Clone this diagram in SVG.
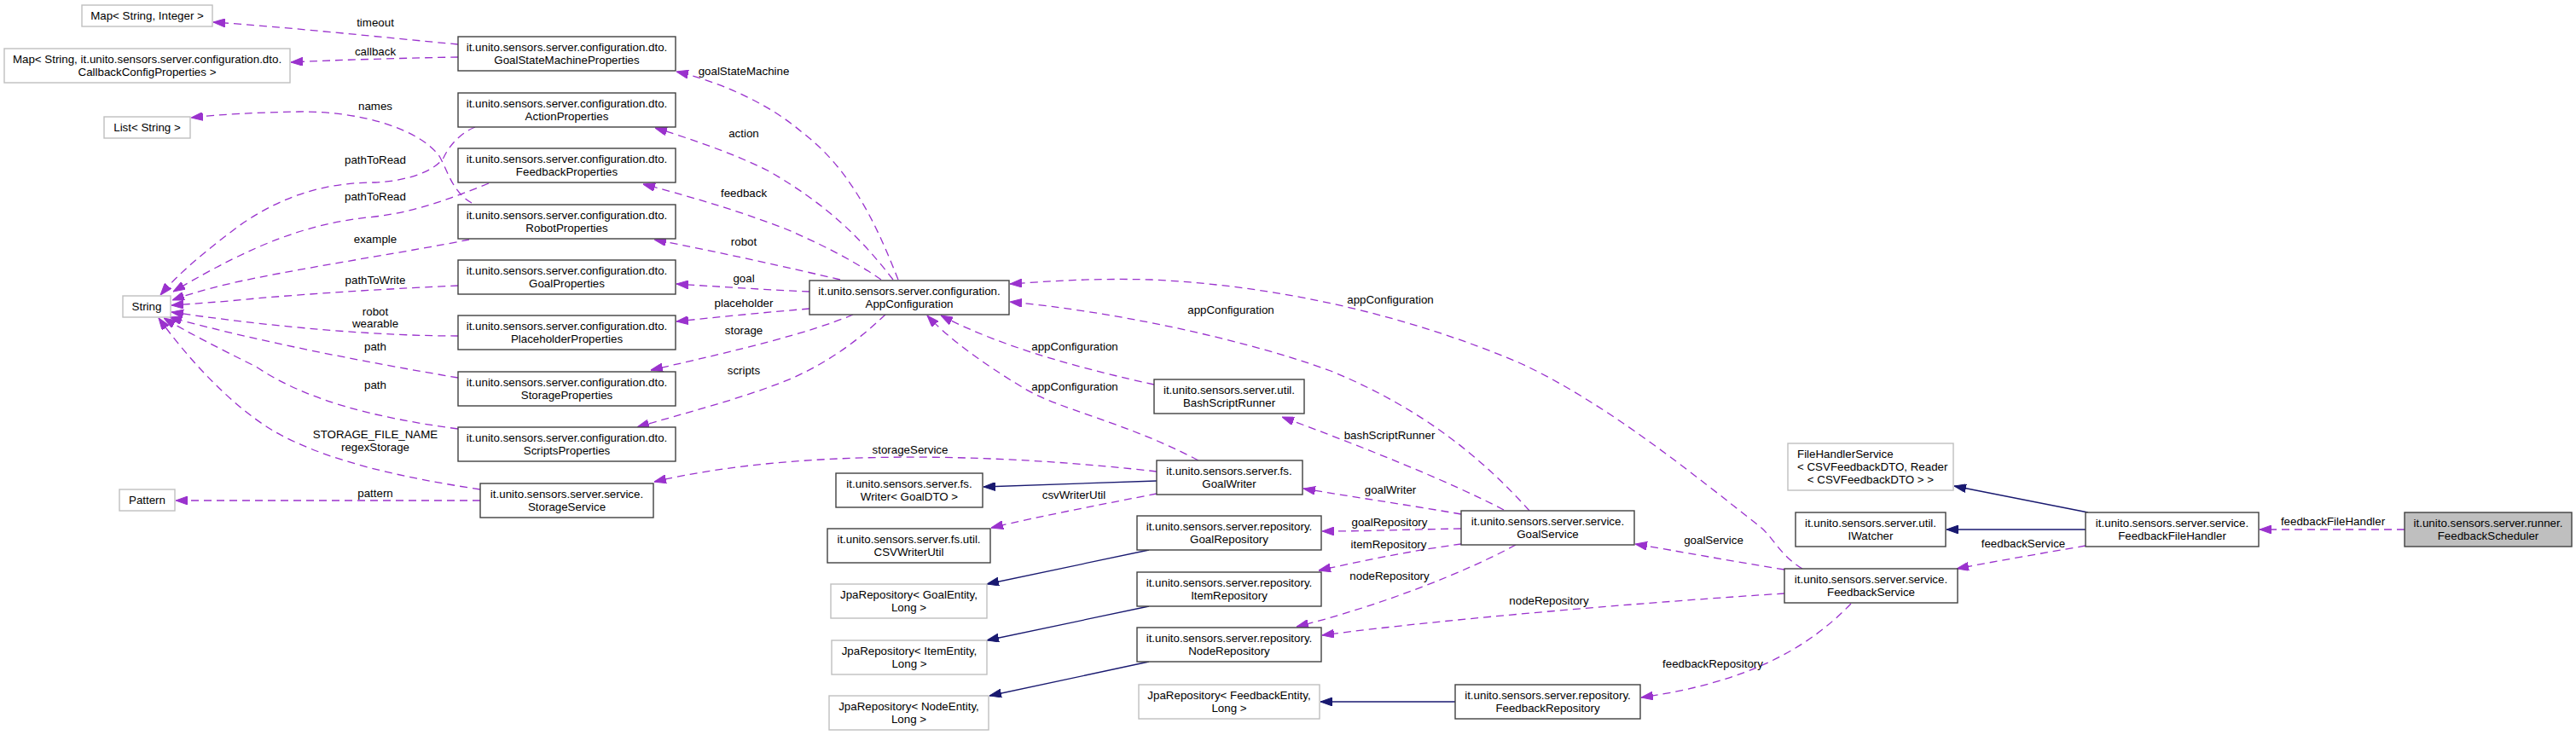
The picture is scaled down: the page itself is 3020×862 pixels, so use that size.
<svg xmlns="http://www.w3.org/2000/svg" width="3020" height="862" viewBox="0 0 3020 862">
<style>
text{font-family:"Liberation Sans",Arial,Helvetica,sans-serif;font-size:13.33px;fill:#000;text-anchor:middle}
.n rect{fill:#fff;stroke:#404040;stroke-width:1.4}
.u rect{fill:#fff;stroke:#bfbfbf;stroke-width:1.4}
.r rect{fill:#bfbfbf;stroke:#404040;stroke-width:1.4}
.d{fill:none;stroke:#9a32cd;stroke-width:1.3;stroke-dasharray:9,6;marker-end:url(#ap)}
.s{fill:none;stroke:#191970;stroke-width:1.3;marker-end:url(#ab)}
.l{text-anchor:start}
</style>
<defs>
<marker id="ap" viewBox="0 0 14 10" refX="14" refY="5" markerWidth="14" markerHeight="10" markerUnits="userSpaceOnUse" orient="auto"><path d="M0,0 L14,5 L0,10 z" fill="#9a32cd" stroke="#9a32cd"/></marker>
<marker id="ab" viewBox="0 0 14 10" refX="14" refY="5" markerWidth="14" markerHeight="10" markerUnits="userSpaceOnUse" orient="auto"><path d="M0,0 L14,5 L0,10 z" fill="#191970" stroke="#191970"/></marker>
</defs>
<rect width="3020" height="862" fill="#fff"/>

<g id="connectors">
<path class="d" d="M537,52 C450,44 340,32 250,26"/>
<path class="d" d="M537,67 C480,68 400,70 341,73"/>
<path class="d" d="M553,238 C530,225 525,200 515,183 C490,150 420,130 350,131 C300,132 260,134 224,138"/>
<path class="d" d="M557,149 C540,156 527,170 520,185 C510,200 480,212 440,214 C380,214 330,230 280,265 C240,295 210,320 188,346"/>
<path class="d" d="M573,215 C530,232 490,248 440,254 C360,262 300,285 203,342"/>
<path class="d" d="M550,281 C480,295 380,310 300,326 C260,334 230,342 202,352"/>
<path class="d" d="M537,335 C470,338 380,343 300,350 C260,354 230,356 201,358"/>
<path class="d" d="M537,394 C450,394 330,385 201,366"/>
<path class="d" d="M537,443 C430,425 300,400 199,372"/>
<path class="d" d="M537,503 C440,490 360,470 300,430 C260,410 220,390 192,373"/>
<path class="d" d="M563,574 C470,560 380,540 320,505 C270,475 220,420 186,373"/>
<path class="d" d="M563,587 L206,587"/>
<path class="d" d="M1053,328 C1030,270 1000,200 940,155 C900,120 840,95 793,84"/>
<path class="d" d="M1047,328 C1010,280 970,240 900,200 C860,180 810,163 768,150"/>
<path class="d" d="M1033,328 C1000,305 960,285 920,268 C860,245 800,228 754,216"/>
<path class="d" d="M985,328 C930,315 840,295 767,281"/>
<path class="d" d="M949,342 C900,340 840,336 793,333"/>
<path class="d" d="M949,362 C900,366 840,372 793,377"/>
<path class="d" d="M1000,369 C950,390 870,410 763,434"/>
<path class="d" d="M1038,369 C1010,395 980,420 930,443 C870,468 800,485 747,501"/>
<path class="d" d="M1405,540 C1320,495 1240,480 1200,455 C1150,425 1110,395 1087,370"/>
<path class="d" d="M1353,451 C1280,435 1180,410 1103,370"/>
<path class="d" d="M1793,599 C1740,540 1670,480 1560,435 C1450,395 1300,365 1184,354"/>
<path class="d" d="M2113,667 C2085,650 2080,630 2060,615 C1990,560 1880,470 1780,425 C1650,370 1500,335 1350,328 C1280,326 1230,330 1184,333"/>
<path class="d" d="M1356,553 C1200,535 950,522 767,565"/>
<path class="d" d="M1356,579 C1300,590 1220,605 1162,619"/>
<path class="d" d="M1763,598 C1700,565 1600,525 1503,489"/>
<path class="d" d="M1713,603 C1650,592 1580,582 1528,573"/>
<path class="d" d="M1713,620 C1650,621 1600,623 1550,623"/>
<path class="d" d="M1713,638 C1660,645 1600,657 1546,669"/>
<path class="d" d="M1777,639 C1720,670 1620,710 1520,735"/>
<path class="d" d="M2092,696 C1950,705 1700,725 1550,745"/>
<path class="d" d="M2092,668 C2030,658 1970,647 1917,638"/>
<path class="d" d="M2170,708 C2120,760 2050,800 1924,818"/>
<path class="d" d="M2445,640 C2400,648 2340,658 2294,667"/>
<path class="d" d="M2819,621 L2649,621"/>
<path class="s" d="M1356,564 L1153,571"/>
<path class="s" d="M1347,645 L1157,685"/>
<path class="s" d="M1347,711 L1157,751"/>
<path class="s" d="M1347,776 L1160,816"/>
<path class="s" d="M1706,823 L1548,823"/>
<path class="s" d="M2448,601 L2291,570"/>
<path class="s" d="M2445,621 L2282,621"/>
<g id="edge-labels">
<text x="440" y="31">timeout</text>
<text x="440" y="65">callback</text>
<text x="440" y="129">names</text>
<text x="440" y="192">pathToRead</text>
<text x="440" y="235">pathToRead</text>
<text x="440" y="285">example</text>
<text x="440" y="333">pathToWrite</text>
<text x="440" y="370">robot</text>
<text x="440" y="384">wearable</text>
<text x="440" y="411">path</text>
<text x="440" y="456">path</text>
<text x="440" y="514">STORAGE_FILE_NAME</text>
<text x="440" y="529">regexStorage</text>
<text x="440" y="583">pattern</text>
<text x="872" y="88">goalStateMachine</text>
<text x="872" y="161">action</text>
<text x="872" y="231">feedback</text>
<text x="872" y="288">robot</text>
<text x="872" y="331">goal</text>
<text x="872" y="360">placeholder</text>
<text x="872" y="392">storage</text>
<text x="872" y="439">scripts</text>
<text x="1630" y="356">appConfiguration</text>
<text x="1443" y="368">appConfiguration</text>
<text x="1260" y="411">appConfiguration</text>
<text x="1260" y="458">appConfiguration</text>
<text x="1067" y="532">storageService</text>
<text x="1259" y="585">csvWriterUtil</text>
<text x="1629" y="515">bashScriptRunner</text>
<text x="1630" y="579">goalWriter</text>
<text x="1629" y="617">goalRepository</text>
<text x="1628" y="643">itemRepository</text>
<text x="1629" y="680">nodeRepository</text>
<text x="1816" y="709">nodeRepository</text>
<text x="2009" y="638">goalService</text>
<text x="2008" y="783">feedbackRepository</text>
<text x="2372" y="642">feedbackService</text>
<text x="2735" y="616">feedbackFileHandler</text>
</g>
</g>

<g id="MapStringInteger" class="u"><rect x="96" y="6" width="153" height="25"/><text x="172.5" y="22.5">Map&lt; String, Integer &gt;</text></g>
<g id="MapCallback" class="u"><rect x="5" y="57" width="335" height="40"/><text x="172.5" y="73.5">Map&lt; String, it.unito.sensors.server.configuration.dto.</text><text x="172.5" y="88.5">CallbackConfigProperties &gt;</text></g>
<g id="ListString" class="u"><rect x="122" y="137" width="101" height="25"/><text x="172.5" y="153.5">List&lt; String &gt;</text></g>
<g id="String" class="u"><rect x="144" y="347" width="56" height="25"/><text x="172" y="363.5">String</text></g>
<g id="Pattern" class="u"><rect x="140" y="574" width="65" height="25"/><text x="172.5" y="590.5">Pattern</text></g>

<g id="GoalStateMachineProperties" class="n"><rect x="537" y="43" width="255" height="40"/><text x="664.5" y="59.5">it.unito.sensors.server.configuration.dto.</text><text x="664.5" y="74.5">GoalStateMachineProperties</text></g>
<g id="ActionProperties" class="n"><rect x="537" y="109" width="255" height="40"/><text x="664.5" y="125.5">it.unito.sensors.server.configuration.dto.</text><text x="664.5" y="140.5">ActionProperties</text></g>
<g id="FeedbackProperties" class="n"><rect x="537" y="174" width="255" height="40"/><text x="664.5" y="190.5">it.unito.sensors.server.configuration.dto.</text><text x="664.5" y="205.5">FeedbackProperties</text></g>
<g id="RobotProperties" class="n"><rect x="537" y="240" width="255" height="40"/><text x="664.5" y="256.5">it.unito.sensors.server.configuration.dto.</text><text x="664.5" y="271.5">RobotProperties</text></g>
<g id="GoalProperties" class="n"><rect x="537" y="305" width="255" height="40"/><text x="664.5" y="321.5">it.unito.sensors.server.configuration.dto.</text><text x="664.5" y="336.5">GoalProperties</text></g>
<g id="PlaceholderProperties" class="n"><rect x="537" y="370" width="255" height="40"/><text x="664.5" y="386.5">it.unito.sensors.server.configuration.dto.</text><text x="664.5" y="401.5">PlaceholderProperties</text></g>
<g id="StorageProperties" class="n"><rect x="537" y="436" width="255" height="40"/><text x="664.5" y="452.5">it.unito.sensors.server.configuration.dto.</text><text x="664.5" y="467.5">StorageProperties</text></g>
<g id="ScriptsProperties" class="n"><rect x="537" y="501" width="255" height="40"/><text x="664.5" y="517.5">it.unito.sensors.server.configuration.dto.</text><text x="664.5" y="532.5">ScriptsProperties</text></g>
<g id="StorageService" class="n"><rect x="563" y="567" width="203" height="40"/><text x="664.5" y="583.5">it.unito.sensors.server.service.</text><text x="664.5" y="598.5">StorageService</text></g>

<g id="AppConfiguration" class="n"><rect x="949" y="329" width="234" height="40"/><text x="1066" y="345.5">it.unito.sensors.server.configuration.</text><text x="1066" y="360.5">AppConfiguration</text></g>
<g id="Writer" class="n"><rect x="980" y="555" width="172" height="40"/><text x="1066" y="571.5">it.unito.sensors.server.fs.</text><text x="1066" y="586.5">Writer&lt; GoalDTO &gt;</text></g>
<g id="CSVWriterUtil" class="n"><rect x="970" y="620" width="191" height="40"/><text x="1065.5" y="636.5">it.unito.sensors.server.fs.util.</text><text x="1065.5" y="651.5">CSVWriterUtil</text></g>
<g id="JpaGoal" class="u"><rect x="974" y="685" width="183" height="40"/><text x="1065.5" y="701.5">JpaRepository&lt; GoalEntity,</text><text x="1065.5" y="716.5">Long &gt;</text></g>
<g id="JpaItem" class="u"><rect x="975" y="751" width="182" height="40"/><text x="1066" y="767.5">JpaRepository&lt; ItemEntity,</text><text x="1066" y="782.5">Long &gt;</text></g>
<g id="JpaNode" class="u"><rect x="972" y="816" width="187" height="40"/><text x="1065.5" y="832.5">JpaRepository&lt; NodeEntity,</text><text x="1065.5" y="847.5">Long &gt;</text></g>

<g id="BashScriptRunner" class="n"><rect x="1353" y="445" width="176" height="40"/><text x="1441" y="461.5">it.unito.sensors.server.util.</text><text x="1441" y="476.5">BashScriptRunner</text></g>
<g id="GoalWriter" class="n"><rect x="1356" y="540" width="171" height="40"/><text x="1441" y="556.5">it.unito.sensors.server.fs.</text><text x="1441" y="571.5">GoalWriter</text></g>
<g id="GoalRepository" class="n"><rect x="1333" y="605" width="216" height="40"/><text x="1441" y="621.5">it.unito.sensors.server.repository.</text><text x="1441" y="636.5">GoalRepository</text></g>
<g id="ItemRepository" class="n"><rect x="1333" y="671" width="216" height="40"/><text x="1441" y="687.5">it.unito.sensors.server.repository.</text><text x="1441" y="702.5">ItemRepository</text></g>
<g id="NodeRepository" class="n"><rect x="1333" y="736" width="216" height="40"/><text x="1441" y="752.5">it.unito.sensors.server.repository.</text><text x="1441" y="767.5">NodeRepository</text></g>
<g id="JpaFeedback" class="u"><rect x="1335" y="803" width="212" height="40"/><text x="1441" y="819.5">JpaRepository&lt; FeedbackEntity,</text><text x="1441" y="834.5">Long &gt;</text></g>

<g id="GoalService" class="n"><rect x="1713" y="599" width="203" height="40"/><text x="1814.5" y="615.5">it.unito.sensors.server.service.</text><text x="1814.5" y="630.5">GoalService</text></g>
<g id="FeedbackRepository" class="n"><rect x="1706" y="803" width="217" height="40"/><text x="1814.5" y="819.5">it.unito.sensors.server.repository.</text><text x="1814.5" y="834.5">FeedbackRepository</text></g>

<g id="FileHandlerService" class="u"><rect x="2096" y="520" width="194" height="55"/><text class="l" x="2107" y="536.5">FileHandlerService</text><text class="l" x="2107" y="551.5">&lt; CSVFeedbackDTO, Reader</text><text x="2193" y="566.5">&lt; CSVFeedbackDTO &gt; &gt;</text></g>
<g id="IWatcher" class="n"><rect x="2105" y="601" width="176" height="40"/><text x="2193" y="617.5">it.unito.sensors.server.util.</text><text x="2193" y="632.5">IWatcher</text></g>
<g id="FeedbackService" class="n"><rect x="2092" y="667" width="203" height="40"/><text x="2193.5" y="683.5">it.unito.sensors.server.service.</text><text x="2193.5" y="698.5">FeedbackService</text></g>
<g id="FeedbackFileHandler" class="n"><rect x="2445" y="601" width="203" height="40"/><text x="2546.5" y="617.5">it.unito.sensors.server.service.</text><text x="2546.5" y="632.5">FeedbackFileHandler</text></g>
<g id="FeedbackScheduler" class="r"><rect x="2819" y="601" width="196" height="40"/><text x="2917" y="617.5">it.unito.sensors.server.runner.</text><text x="2917" y="632.5">FeedbackScheduler</text></g>
</svg>
